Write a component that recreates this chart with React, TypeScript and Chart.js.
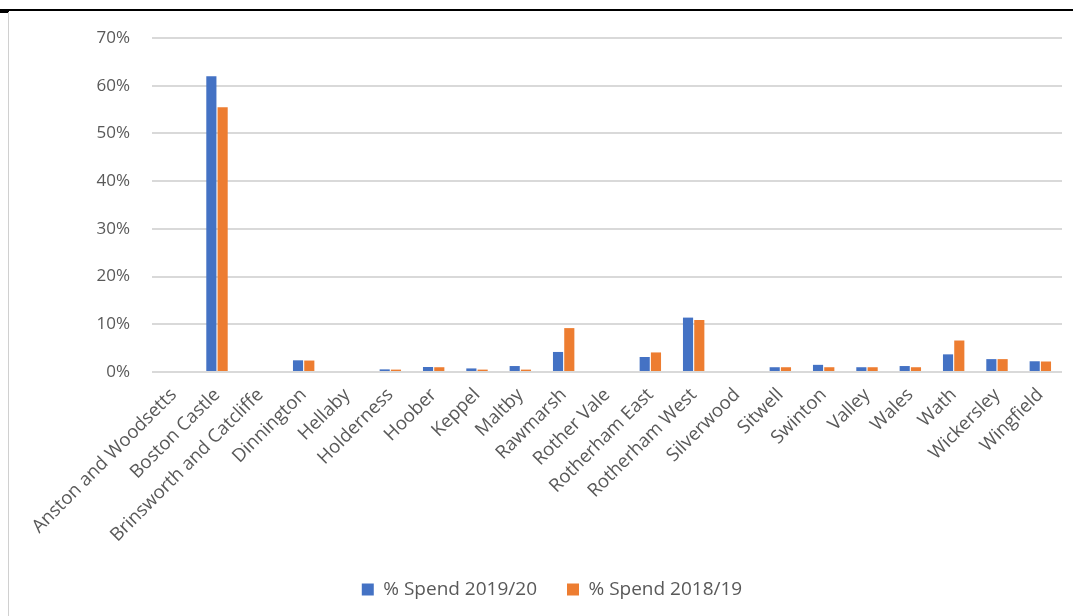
import React, { useEffect, useRef } from "react";
import { Chart, registerables } from "chart.js";

Chart.register(...registerables);

const categories = [
  "Anston and Woodsetts",
  "Boston Castle",
  "Brinsworth and Catcliffe",
  "Dinnington",
  "Hellaby",
  "Holderness",
  "Hoober",
  "Keppel",
  "Maltby",
  "Rawmarsh",
  "Rother Vale",
  "Rotherham East",
  "Rotherham West",
  "Silverwood",
  "Sitwell",
  "Swinton",
  "Valley",
  "Wales",
  "Wath",
  "Wickersley",
  "Wingfield",
];

const spend2019 = [0, 62.0, 0, 2.45, 0, 0.55, 1.05, 0.75, 1.25, 4.2, 0, 3.15, 11.4, 0, 1.0, 1.5, 1.0, 1.25, 3.7, 2.7, 2.25];
const spend2018 = [0, 55.5, 0, 2.4, 0, 0.5, 1.0, 0.5, 0.5, 9.2, 0, 4.1, 10.9, 0, 1.0, 1.0, 1.0, 1.0, 6.6, 2.7, 2.2];

const seriesNames = ["% Spend 2019/20", "% Spend 2018/19"];
const yTicks = [0, 10, 20, 30, 40, 50, 60, 70];

const FONT = "'Open Sans', sans-serif";
const TEXT = "#595959";

export default function App() {
  const ref = useRef<HTMLCanvasElement | null>(null);

  useEffect(() => {
    if (!ref.current) return;
    const chart = new Chart(ref.current, {
      type: "bar",
      data: {
        labels: categories,
        datasets: [
          {
            label: seriesNames[0],
            data: spend2019,
            backgroundColor: "#4472C4",
            categoryPercentage: 0.52,
            barPercentage: 0.9,
          },
          {
            label: seriesNames[1],
            data: spend2018,
            backgroundColor: "#ED7D31",
            categoryPercentage: 0.52,
            barPercentage: 0.9,
          },
        ],
      },
      options: {
        animation: false,
        responsive: false,
        maintainAspectRatio: false,
        devicePixelRatio: 1,
        layout: { padding: { left: 42, right: 11, top: 38, bottom: 7 } },
        plugins: {
          legend: {
            position: "bottom",
            labels: {
              color: TEXT,
              font: { family: FONT, size: 19 },
              boxWidth: 12,
              boxHeight: 12,
              padding: 30,
            },
          },
          tooltip: { enabled: false },
        },
        scales: {
          x: {
            grid: { display: false },
            border: { display: false },
            ticks: {
              color: TEXT,
              font: { family: FONT, size: 18.5 },
              minRotation: 45,
              maxRotation: 45,
              autoSkip: false,
              padding: 4,
            },
            afterFit: (s: any) => {
              s.height = 178;
            },
          },
          y: {
            min: 0,
            max: 70,
            afterBuildTicks: (s: any) => {
              s.ticks = yTicks.map((v) => ({ value: v }));
            },
            grid: { color: "#d9d9d9", lineWidth: 2, drawTicks: false },
            border: { display: false },
            ticks: {
              color: TEXT,
              font: { family: FONT, size: 17 },
              padding: 22,
              callback: (v: any) => v + "%",
            },
            afterFit: (s: any) => {
              s.width = 110;
            },
          },
        },
      },
    });
    return () => chart.destroy();
  }, []);

  return (
    <div
      style={{
        position: "fixed",
        left: 0,
        top: 0,
        width: 1073,
        height: 616,
        background: "#fff",
        overflow: "hidden",
      }}
    >
      <canvas ref={ref} width={1073} height={616} style={{ position: "absolute", left: 0, top: 0 }} />
      <div style={{ position: "absolute", left: 0, top: 9, width: 1073, height: 2, background: "#000" }} />
      <div style={{ position: "absolute", left: 0, top: 10, width: 9, height: 3, background: "#000" }} />
      <div style={{ position: "absolute", left: 8, top: 12, width: 1, height: 604, background: "#d0d0d0" }} />
    </div>
  );
}
